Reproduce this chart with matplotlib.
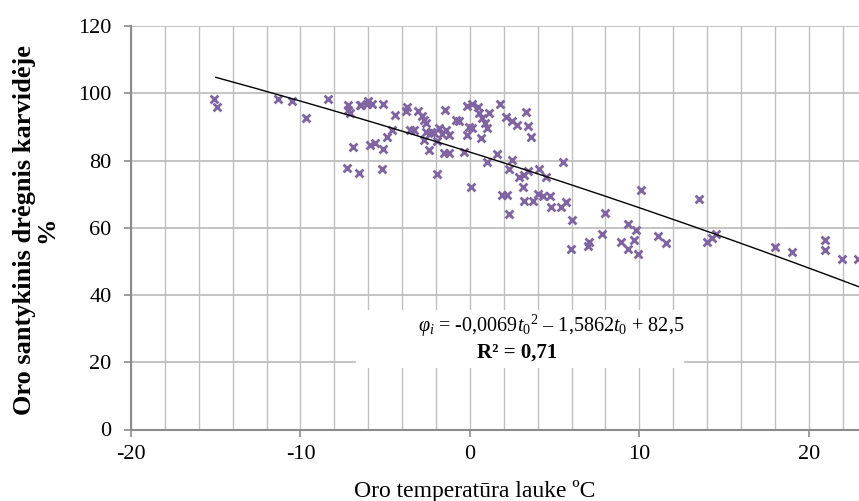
import numpy as np
import matplotlib
matplotlib.use("Agg")
import matplotlib.pyplot as plt
from matplotlib.ticker import MultipleLocator
from matplotlib.patches import Rectangle

# ---- data ----
temperature = [
    -15.1, -14.95, -11.3, -10.5, -9.7, -8.4, -7.2, -7.2, -7.1, -6.5,
    -6.4, -6.0, -5.8, -6.1, -5.15, -6.9, -5.9, -5.6, -5.1, -7.25,
    -6.55, -5.2, -4.9, -4.6, -4.4, -3.8, -3.7, -3.55, -3.05, -2.8,
    -2.7, -2.6, -3.3, -2.7, -2.6, -2.3, -2.1, -1.8, -1.65, -1.4,
    -1.25, -2.4, -1.95, -1.55, -1.25, -1.95, -1.5, -0.85, -0.65, -0.35,
    -0.15, -0.15, 0.15, 0.45, -0.05, 0.15, 0.55, 0.7, 0.9, 1.0,
    0.65, 0.05, 1.1, 1.8, 2.1, 2.5, 2.8, 3.3, 3.45, 3.6,
    1.0, 1.6, 2.5, 2.3, 2.9, 3.2, 3.45, 3.15, 4.1, 4.5,
    5.5, 1.9, 2.2, 2.3, 3.2, 3.7, 4.0, 4.3, 4.7, 4.8,
    5.4, 5.65, 6.0, 5.95, 8.0, 7.8, 7.05, 6.95, 8.9, 9.3,
    9.8, 9.7, 9.3, 9.9, 10.1, 11.1, 11.6, 13.5, 14.0, 14.3,
    14.55, 18.0, 19.0, 20.95, 20.95, 21.95, 22.9,
]
humidity = [
    98.3, 95.8, 98.3, 97.8, 92.5, 98.3, 96.6, 95.1, 94.1, 96.4,
    96.6, 97.6, 96.9, 96.9, 96.8, 84.0, 84.5, 85.2, 83.4, 77.7,
    76.4, 77.4, 87.1, 89.1, 93.6, 94.6, 96.0, 89.1, 94.6, 93.1,
    92.1, 91.1, 89.0, 86.2, 88.6, 88.6, 88.2, 89.7, 87.9, 89.1,
    87.6, 83.2, 85.7, 82.2, 82.2, 76.0, 94.9, 92.1, 91.6, 82.4,
    87.6, 96.1, 96.8, 95.8, 90.1, 89.6, 94.2, 92.7, 91.2, 89.7,
    86.7, 72.1, 94.1, 96.9, 93.0, 91.6, 90.6, 94.4, 90.3, 87.1,
    79.7, 82.0, 80.2, 77.4, 75.2, 75.7, 77.0, 72.1, 77.4, 75.1,
    79.5, 69.8, 69.8, 64.1, 68.1, 68.1, 70.1, 69.3, 69.3, 66.3,
    66.3, 67.8, 62.4, 53.6, 64.3, 58.2, 55.9, 54.7, 55.9, 61.2,
    59.2, 56.4, 53.6, 52.2, 71.3, 57.4, 55.4, 68.5, 55.9, 56.9,
    58.2, 54.4, 52.9, 56.4, 53.4, 50.7, 50.7,
]
# polynomial trendline coefficients (as printed on the chart): a*t^2 + b*t + c
trend_coef = [-0.0069, -1.5862, 82.5]
trend_start = -15.0
x_ticks = [-20, -10, 0, 10, 20]
y_ticks = [0, 20, 40, 60, 80, 100, 120]
x_label = "Oro temperatūra lauke ºC"
y_label = "Oro santykinis drėgnis karvidėje\n%"
eq_label = r"$\varphi_i$ = -0,0069$t_0$$^2$ – 1,5862$t_0$ + 82,5"
r2_label = "R² = 0,71"

# ---- style ----
plt.rcParams['font.family'] = ['Liberation Serif', 'DejaVu Serif']
plt.rcParams['mathtext.fontset'] = 'custom'
plt.rcParams['mathtext.rm'] = 'Liberation Serif'
plt.rcParams['mathtext.it'] = 'Liberation Serif:italic'
plt.rcParams['mathtext.bf'] = 'Liberation Serif:bold'
plt.rcParams['axes.unicode_minus'] = False

purple = '#8064A2'
grid_c = '#bfbfbf'
axis_c = '#8c8c8c'

fig = plt.figure(figsize=(8.59, 5.01), dpi=100)
ax = fig.add_axes([131 / 859, 71.5 / 501, 1 - 131 / 859, 403.5 / 501])

xmin, xmax = -20, 22.96
ax.set_xlim(xmin, xmax)
ax.set_ylim(0, 120)

ax.xaxis.set_major_locator(plt.FixedLocator(x_ticks))
ax.xaxis.set_minor_locator(MultipleLocator(2))
ax.yaxis.set_major_locator(plt.FixedLocator(y_ticks))

ax.grid(True, which='major', axis='y', color=grid_c, linewidth=1.3, zorder=0)
ax.grid(True, which='both', axis='x', color=grid_c, linewidth=1.0, zorder=0)
ax.set_axisbelow(True)

for s in ['top', 'right']:
    ax.spines[s].set_visible(False)
for s in ['left', 'bottom']:
    ax.spines[s].set_color(axis_c)
    ax.spines[s].set_linewidth(1.5)

ax.tick_params(axis='both', which='major', direction='out', length=5,
               width=1.2, color=axis_c, labelsize=16, labelcolor='black')
ax.tick_params(axis='x', which='minor', length=0)
ax.tick_params(axis='x', pad=6)
ax.tick_params(axis='y', pad=9)

# white label area (covers gridlines behind the trendline label)
ax.add_patch(Rectangle((-6.75, 18.4), 19.4, 17.0, facecolor='white',
                       edgecolor='none', zorder=1))

# scatter points
ax.scatter(temperature, humidity, marker='x', s=32, linewidths=2.0,
           color=purple, zorder=3)

# trendline from printed coefficients
tx = np.linspace(trend_start, xmax, 200)
ty = np.polyval(trend_coef, tx)
ax.plot(tx, ty, color='black', linewidth=1.0, zorder=4)

ax.text(4.8, 30.8, eq_label, ha='center', va='center', fontsize=14.5,
        zorder=5)
ax.text(2.8, 23.0, r2_label, ha='center', va='center', fontsize=15,
        fontweight='bold', zorder=6)

fig.text(36 / 859, 1 - 230 / 501, y_label, rotation=90, ha='center',
         va='center', fontsize=19, fontweight='bold', linespacing=0.95,
         multialignment='center')
fig.text(475 / 859, 1 - 491 / 501, x_label, ha='center', va='center',
         fontsize=17)

fig.savefig('out.png', dpi=100)
